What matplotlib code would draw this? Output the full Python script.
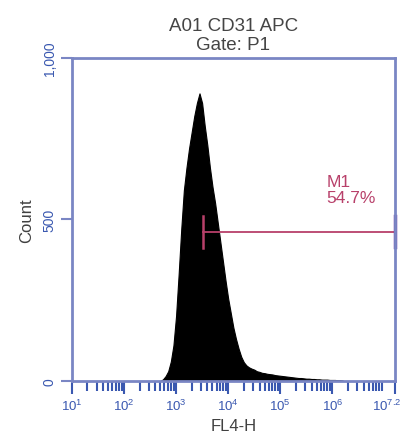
import numpy as np
import matplotlib
matplotlib.use("Agg")
import matplotlib.pyplot as plt
import matplotlib.transforms as mtransforms
from matplotlib.ticker import FixedLocator, LogLocator, NullFormatter

plt.rcParams['font.family'] = ['Liberation Sans', 'DejaVu Sans']
plt.rcParams['mathtext.default'] = 'regular'

# histogram: bin centres in log10(FL4-H), counts
log_centers = np.round(np.arange(2.70, 6.25, 0.05), 2)
counts = [0, 5, 15, 30, 60, 110, 200, 330, 470, 590,
          660, 720, 770, 820, 860, 890, 860, 790, 730, 660,
          600, 550, 490, 430, 370, 310, 255, 210, 165, 130,
          100, 75, 58, 48, 42, 38, 35, 30, 28, 25,
          24, 22, 21, 20, 18, 17, 16, 15, 14, 13,
          12, 11, 10, 9, 9, 8, 7, 7, 6, 6,
          5, 5, 4, 4, 4, 3, 3, 3, 2, 2, 1]

# M1 marker
m1_start, m1_end, m1_level = 10**3.52, 10**7.2, 462
m1_label = "M1\n54.7%"

x_major = [1, 2, 3, 4, 5, 6, 7.2]
y_ticks = [0, 500, 1000]
y_labels = ["0", "500", "1,000"]

axis_col = '#7a86c4'
tick_col = '#3a58b0'
marker_col = '#b8406a'

fig = plt.figure(figsize=(4.08, 4.39), dpi=100)
ax = fig.add_axes([0.176, 0.130, 0.792, 0.736])

ax.fill_between(10 ** log_centers, 0, counts, facecolor='black', edgecolor='black',
                linewidth=0.8)

ax.set_xscale('log')
ax.set_xlim(10, 10**7.2)
ax.set_ylim(0, 1000)

ax.xaxis.set_major_locator(FixedLocator([10**v for v in x_major]))
ax.set_xticklabels([f"$10^{{{v:g}}}$" for v in x_major], color=tick_col, fontsize=9.5)
ax.xaxis.set_minor_locator(LogLocator(base=10, subs=np.arange(2, 10), numticks=20))
ax.xaxis.set_minor_formatter(NullFormatter())
ax.tick_params(axis='x', which='major', length=9, width=1.5, color=tick_col, pad=3)
ax.tick_params(axis='x', which='minor', length=7, width=1.5, color=tick_col)

# keep the last label inside the figure
last = ax.get_xticklabels()[-1]
last.set_transform(last.get_transform() +
                   mtransforms.ScaledTranslation(-6 / 72, 0, fig.dpi_scale_trans))

ax.set_yticks(y_ticks)
ax.set_yticklabels(y_labels, rotation=90, va='center', color=tick_col, fontsize=10)
ax.tick_params(axis='y', length=8, width=1.5, color=axis_col, pad=3)

for s in ax.spines.values():
    s.set_color(axis_col)
    s.set_linewidth(2)

# M1 gate marker
ax.plot([m1_start, m1_end], [m1_level, m1_level], color=marker_col, lw=1.3)
ax.plot([m1_start, m1_start], [m1_level - 50, m1_level + 50], color=marker_col, lw=1.8)
ax.plot([m1_end, m1_end], [m1_level - 48, m1_level + 50], color='#6a3aa8', lw=2.5, clip_on=False)
ax.text(10**5.88, 640, m1_label, color=marker_col, fontsize=12.5, va='top', ha='left',
        linespacing=1.1)

ax.set_title("A01 CD31 APC\nGate: P1", fontsize=13.5, color='#454545', pad=6, linespacing=1.2)
ax.set_xlabel("FL4-H", fontsize=12, color='#404040', labelpad=4)
ax.set_ylabel("Count", fontsize=12, color='#404040', labelpad=6)

fig.savefig("out.png", dpi=100)
